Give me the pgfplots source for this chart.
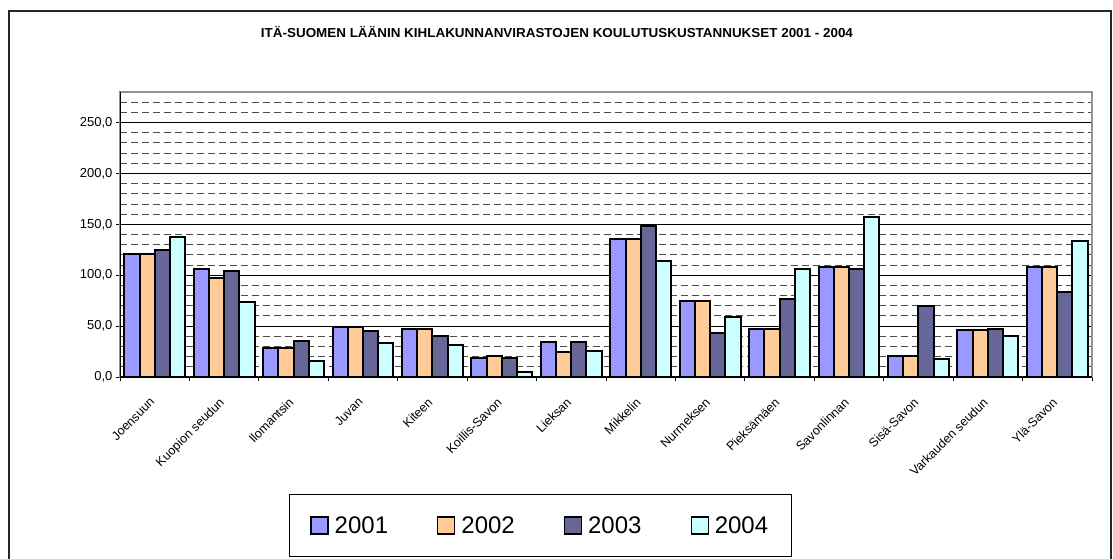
\documentclass[border=0pt]{standalone}
\usepackage{fontspec}
\setmainfont{Liberation Sans}
\usepackage{graphicx}
\usepackage{pgfplots}
\usepackage{pgfplotstable}
\pgfplotsset{compat=1.18}
\definecolor{cA}{HTML}{9999FF}
\definecolor{cB}{HTML}{FFCC99}
\definecolor{cC}{HTML}{666699}
\definecolor{cD}{HTML}{CCFFFF}
\pgfplotstableread{
x y1 y2 y3 y4
0 121.2 121.2 124.8 138.0
1 106.0 97.0 104.0 74.0
2 28.8 28.8 35.4 16.0
3 48.8 48.8 45.5 33.0
4 47.0 47.0 40.0 31.0
5 18.3 20.6 18.3 4.9
6 34.0 25.0 34.7 26.0
7 135.6 135.6 148.0 114.0
8 75.0 75.0 43.6 58.6
9 46.9 46.9 76.3 105.8
10 107.8 107.8 105.8 157.6
11 20.6 20.6 69.8 18.0
12 46.2 46.2 46.9 40.6
13 107.8 107.8 83.9 134.0
}\data
\pgfplotsset{sqlegend/.style={legend image code/.code={\draw[##1, line width=1.3pt, draw=black] (0pt,-8.5pt) rectangle (17pt,8.5pt);}}}
\begin{document}
\begin{tikzpicture}
\useasboundingbox (0pt,0pt) rectangle (1113pt,-558pt);
\draw[line width=1.5pt, black!85] (9pt,-560pt) -- (9pt,-11pt) -- (1111pt,-11pt) -- (1111pt,-560pt);
\node at (557pt,-32pt) {\resizebox{592pt}{\height}{\bfseries\fontsize{13}{15}\selectfont ITÄ-SUOMEN LÄÄNIN KIHLAKUNNANVIRASTOJEN KOULUTUSKUSTANNUKSET 2001 - 2004}};
\begin{axis}[
  at={(120pt,-377pt)}, anchor=south west,
  scale only axis, width=972pt, height=285pt,
  xmin=-0.5, xmax=13.5, ymin=0, ymax=280,
  ybar=0pt, bar width=15.2pt,
  axis line style={draw=gray!85, line width=1.5pt},
  xtick={0,...,13},
  xticklabels={Joensuun,Kuopion seudun,Ilomantsin,Juvan,Kiteen,Koillis-Savon,Lieksan,Mikkelin,Nurmeksen,Pieksämäen,Savonlinnan,Sisä-Savon,Varkauden seudun,Ylä-Savon},
  minor xtick={-0.5,0.5,...,13.5},
  major x tick style={draw=none},
  ytick={0,50,...,250},
  minor ytick={10,20,...,270},
  minor y tick style={draw=none},
  xtick pos=bottom, ytick pos=left,
  tick align=outside, major tick length=4pt, minor tick length=4pt,
  tick style={black, line width=1pt},
  ymajorgrids, yminorgrids,
  major grid style={black, line width=0.8pt},
  minor grid style={black!70, line width=0.9pt, dash pattern=on 7pt off 4pt},
  xticklabel style={rotate=45, anchor=north east, font=\fontsize{12.5}{14}\selectfont, inner sep=2pt, xshift=-13pt, yshift=-5pt},
  yticklabel style={font=\fontsize{13}{15}\selectfont, /pgf/number format/.cd, fixed, fixed zerofill, precision=1, use comma, assume math mode=true},
  legend columns=4,
  legend style={at={(0.1739,-0.4105)}, anchor=north west, draw=black, line width=0.8pt,
    font=\fontsize{24}{28}\selectfont, inner xsep=21pt, inner ysep=20pt,
    /tikz/every odd column/.append style={column sep=4pt},
    /tikz/every even column/.append style={column sep=47pt}},
]
\addplot[fill=cA, draw=black, line width=2pt, sqlegend] table[x=x, y=y1] {\data};
\addplot[fill=cB, draw=black, line width=2pt, sqlegend] table[x=x, y=y2] {\data};
\addplot[fill=cC, draw=black, line width=2pt, sqlegend] table[x=x, y=y3] {\data};
\addplot[fill=cD, draw=black, line width=2pt, sqlegend] table[x=x, y=y4] {\data};
\legend{2001,2002,2003,2004}
\draw[black, line width=1.5pt] (rel axis cs:0,1) -- (rel axis cs:0,0) -- (rel axis cs:1,0);
\end{axis}
\end{tikzpicture}
\end{document}
